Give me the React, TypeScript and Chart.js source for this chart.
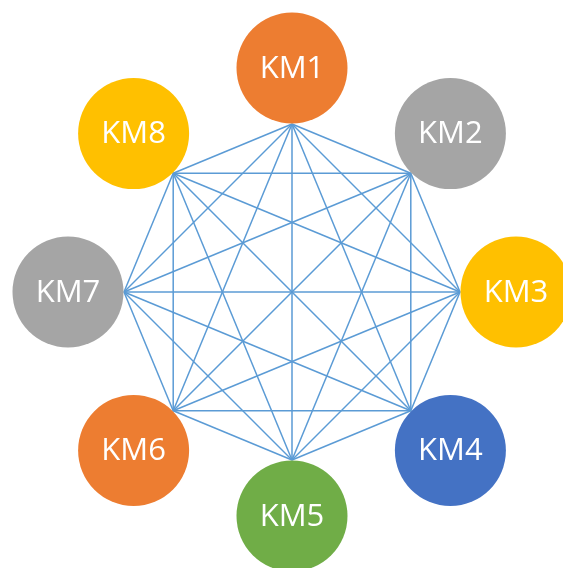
import React, { useEffect, useRef } from "react";
import { Chart, registerables } from "chart.js";

Chart.register(...registerables);

// Node labels, in clockwise order starting from the top
const nodeLabels = ["KM1", "KM2", "KM3", "KM4", "KM5", "KM6", "KM7", "KM8"];
const nodeColors = ["#ED7D31", "#A5A5A5", "#FFC000", "#4472C4", "#70AD47", "#ED7D31", "#A5A5A5", "#FFC000"];
// Edges: every pair of nodes is connected (complete graph)
const edges: [number, number][] = [];
for (let i = 0; i < nodeLabels.length; i++) {
  for (let j = i + 1; j < nodeLabels.length; j++) edges.push([i, j]);
}

const ORBIT = 1; // node centres on the unit circle
const EDGE_R = 0.75; // edges meet the circle rims
const NODE_R = 55.5; // node circle radius in px
const PX_PER_UNIT = 224;
const CX = 292;
const CY = 292;
const W = 563;
const H = 568;
// Chart.js insets the chart area by the largest point radius
const PAD = NODE_R;

function nodePos(i: number, r: number) {
  const a = Math.PI / 2 - (i * 2 * Math.PI) / nodeLabels.length;
  return { x: r * Math.cos(a), y: r * Math.sin(a) };
}

const labelPlugin = {
  id: "nodeLabels",
  afterDatasetsDraw(chart: any) {
    const meta = chart.getDatasetMeta(0);
    const ctx = chart.ctx;
    ctx.save();
    ctx.fillStyle = "#FFFFFF";
    ctx.font = '31px "Open Sans", "Noto Sans", sans-serif';
    ctx.textAlign = "center";
    ctx.textBaseline = "middle";
    meta.data.forEach((pt: any, i: number) => {
      ctx.fillText(nodeLabels[i], pt.x, pt.y + 1);
    });
    ctx.restore();
  },
};

export default function App() {
  const ref = useRef<HTMLCanvasElement>(null);
  useEffect(() => {
    if (!ref.current) return;
    const datasets: any[] = [
      {
        label: "nodes",
        data: nodeLabels.map((_, i) => nodePos(i, ORBIT)),
        pointRadius: NODE_R,
        pointHoverRadius: NODE_R,
        pointBackgroundColor: nodeColors,
        pointBorderWidth: 0,
        pointBorderColor: "rgba(0,0,0,0)",
        showLine: false,
        order: 0,
        clip: false,
      },
      ...edges.map(([a, b]) => ({
        label: nodeLabels[a] + "-" + nodeLabels[b],
        data: [nodePos(a, EDGE_R), nodePos(b, EDGE_R)],
        showLine: true,
        borderColor: "#5B9BD5",
        borderWidth: 1.5,
        pointRadius: 0,
        pointHoverRadius: 0,
        order: 1,
        clip: false,
      })),
    ];
    const chart = new Chart(ref.current, {
      type: "scatter",
      data: { datasets },
      options: {
        animation: false,
        responsive: false,
        events: [],
        layout: { padding: 0 },
        plugins: { legend: { display: false }, tooltip: { enabled: false } },
        scales: {
          x: {
            type: "linear",
            display: false,
            min: (PAD - CX) / PX_PER_UNIT,
            max: (W - PAD - CX) / PX_PER_UNIT,
          },
          y: {
            type: "linear",
            display: false,
            min: -(H - PAD - CY) / PX_PER_UNIT,
            max: (CY - PAD) / PX_PER_UNIT,
          },
        },
      },
      plugins: [labelPlugin],
    });
    return () => chart.destroy();
  }, []);
  return (
    <div style={{ position: "absolute", left: 0, top: 0, width: W, height: H, background: "#fff" }}>
      <canvas ref={ref} width={W} height={H} style={{ display: "block" }} />
    </div>
  );
}
